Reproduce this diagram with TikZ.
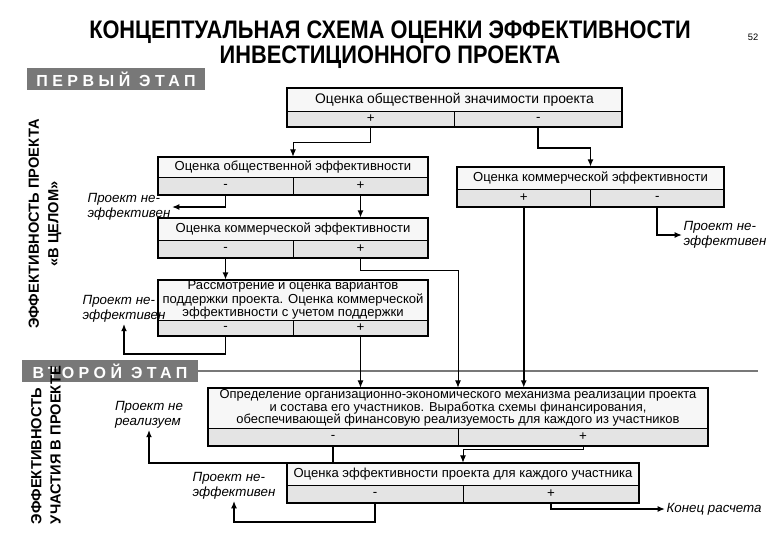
\documentclass[tikz,border=0pt]{standalone}
\usepackage{fontspec}
\usepackage{graphicx}
\setmainfont{Liberation Sans}
\newfontfamily\stagefont[LetterSpace=28]{Liberation Sans}
\usetikzlibrary{positioning, calc, arrows.meta}

\definecolor{cTop}  {HTML}{F7F7F7}
\definecolor{cRow}  {HTML}{E4E4E4}
\definecolor{cStage}{HTML}{787878}

% one evaluation box: name, x1, y1, x2, ysplit, y2, text, left sign, right sign
\newcommand{\evalbox}[9]{%
  \node[boxtop, minimum width={(#4-#2)*0.75pt}, minimum height={(#5-#3)*0.75pt}]
    (#1) at ({(#2+#4)/2},{(#3+#5)/2}) {#7};
  \node[boxcell, minimum width={(#4-#2)*0.375pt}, minimum height={(#6-#5)*0.75pt}]
    (#1-L) at ({(3*#2+#4)/4},{(#5+#6)/2}) {#8};
  \node[boxcell, minimum width={(#4-#2)*0.375pt}, minimum height={(#6-#5)*0.75pt}]
    (#1-R) at ({(#2+3*#4)/4},{(#5+#6)/2}) {#9};
  \draw[boxframe] (#2,#3) rectangle (#4,#6);
}

\begin{document}
\begin{tikzpicture}[
  x=0.75pt, y=-0.75pt,
  font=\fontsize{10}{12}\selectfont,
  >={Latex[length=5.5pt,width=4.5pt]},
  boxtop/.style={draw=black, line width=0.5pt, fill=cTop, inner sep=0pt, align=center,
                 font=\fontsize{9.8}{10}\selectfont},
  boxcell/.style={draw=black, line width=0.5pt, fill=cRow, inner sep=0pt},
  boxframe/.style={draw=black, line width=1.5pt},
  flow/.style={->, line width=1.3pt},
  flowthin/.style={->, line width=0.7pt},
  note/.style={font=\itshape\fontsize{10}{11}\selectfont, align=left, inner sep=1pt},
  stage/.style={fill=cStage, text=white, inner sep=0pt, minimum height=16.5pt,
                font=\stagefont\bfseries\fontsize{12}{13}\selectfont},
  sidetext/.style={rotate=90, inner sep=0pt, font=\bfseries\fontsize{11}{14.5}\selectfont},
]
\useasboundingbox (0,0) rectangle (780,540);

% =====================================================================
% heading
% =====================================================================
\node (title) at (390,46) {\scalebox{0.86}[1]{\bfseries\fontsize{19}{18}\selectfont
  \begin{tabular}{@{}c@{}}КОНЦЕПТУАЛЬНАЯ СХЕМА ОЦЕНКИ ЭФФЕКТИВНОСТИ\\
  ИНВЕСТИЦИОННОГО ПРОЕКТА\end{tabular}}};
\node[font=\fontsize{7}{8}\selectfont] (pageNo) at (753,37) {52};

% stages
\node[stage, minimum width=133.5pt] (stage1) at (116,79) {ПЕРВЫЙ ЭТАП};
\node[stage, minimum width=132pt]   (stage2) at (110,371) {ВТОРОЙ ЭТАП};
\coordinate (stageEnd) at (758,371);
\draw[cStage, line width=1.5pt] (stage2.east) -- (stageEnd);

% side captions
\node[sidetext, align=center] (side1) at (45,224) {ЭФФЕКТИВНОСТЬ ПРОЕКТА\\«В ЦЕЛОМ»};
\node[sidetext, align=left]   (side2) at (46,445) {ЭФФЕКТИВНОСТЬ\\УЧАСТИЯ В ПРОЕКТЕ};

% =====================================================================
% first stage boxes
% =====================================================================
{\tikzset{boxtop/.append style={font=\fontsize{10.4}{12}\selectfont}}
\evalbox{znach}{287}{88}{622}{111}{127}{Оценка общественной значимости проекта}{+}{-}}
\evalbox{socEff}{158}{157}{428}{177}{195}{Оценка общественной эффективности}{-}{+}
\evalbox{komEffR}{457}{167}{724}{189}{207}{Оценка коммерческой эффективности}{+}{-}
\evalbox{komEff}{158}{218}{428}{240}{258}{Оценка коммерческой эффективности}{-}{+}
\evalbox{podd}{158}{280}{428}{320}{336}{Рассмотрение и оценка вариантов\\
  поддержки проекта. Оценка коммерческой\\эффективности с учетом поддержки}{-}{+}

% =====================================================================
% second stage boxes
% =====================================================================
{\tikzset{boxtop/.append style={font=\fontsize{9.7}{9.4}\selectfont}}
\evalbox{mech}{208}{388}{708}{428}{446}{Определение организационно-экономического механизма реализации проекта\\
  и состава его участников. Выработка схемы финансирования,\\
  обеспечивающей финансовую реализуемость для каждого из участников}{-}{+}}
\evalbox{uchast}{287}{463}{639}{485}{503}{Оценка эффективности проекта для каждого участника}{-}{+}

% outcome labels
\node[note, anchor=east] (lblSoc)  at (172,207) {Проект не-\\эффективен};
\node[note]              (lblSup)  at (124,309) {Проект не-\\эффективен};
\node[note, anchor=west] (lblKomR) at (682,235) {Проект не-\\эффективен};
\node[note]              (lblReal) at (149,415) {Проект не\\реализуем};
\node[note]              (lblUch)  at (234,486) {Проект не-\\эффективен};
\node[note, anchor=west] (lblEnd)  at (665,509) {Конец расчета};

% =====================================================================
% connectors
% =====================================================================
\draw[flowthin] (znach-L.south) -- ++(0,15) -| (socEff.north);
\draw[flow] (znach-R.south) -- ++(0,21) -| (komEffR.north);
\draw[flow] (socEff-L.south) |- (lblSoc.east);
\draw[flow] (socEff-R.south) -- (socEff-R.south |- komEff.north);
\draw[flow] (komEffR-R.south) |- (lblKomR.west);
\draw[flow] (komEffR-L.south) -- (komEffR-L.south |- mech.north);
\draw[flow] (komEff-L.south) -- (komEff-L.south |- podd.north);
\draw[flowthin] (komEff-R.south) -- ++(0,12) -| (mech.north);
\draw[flow] (podd-L.south) -- ++(0,18) -| (lblSup.south);
\draw[flowthin] (podd-R.south) -- (podd-R.south |- mech.north);

\draw[flow] (mech-L.south) -- (mech-L.south |- uchast.north) -| (lblReal.south);
\draw[flowthin] (mech-R.south) -- ++(0,3) -| (uchast.north);
\draw[flow] (uchast-L.south) -- ++(0,19) -| (lblUch.south);
\draw[flow] (uchast-R.south) |- (lblEnd.west);

\end{tikzpicture}
\end{document}
